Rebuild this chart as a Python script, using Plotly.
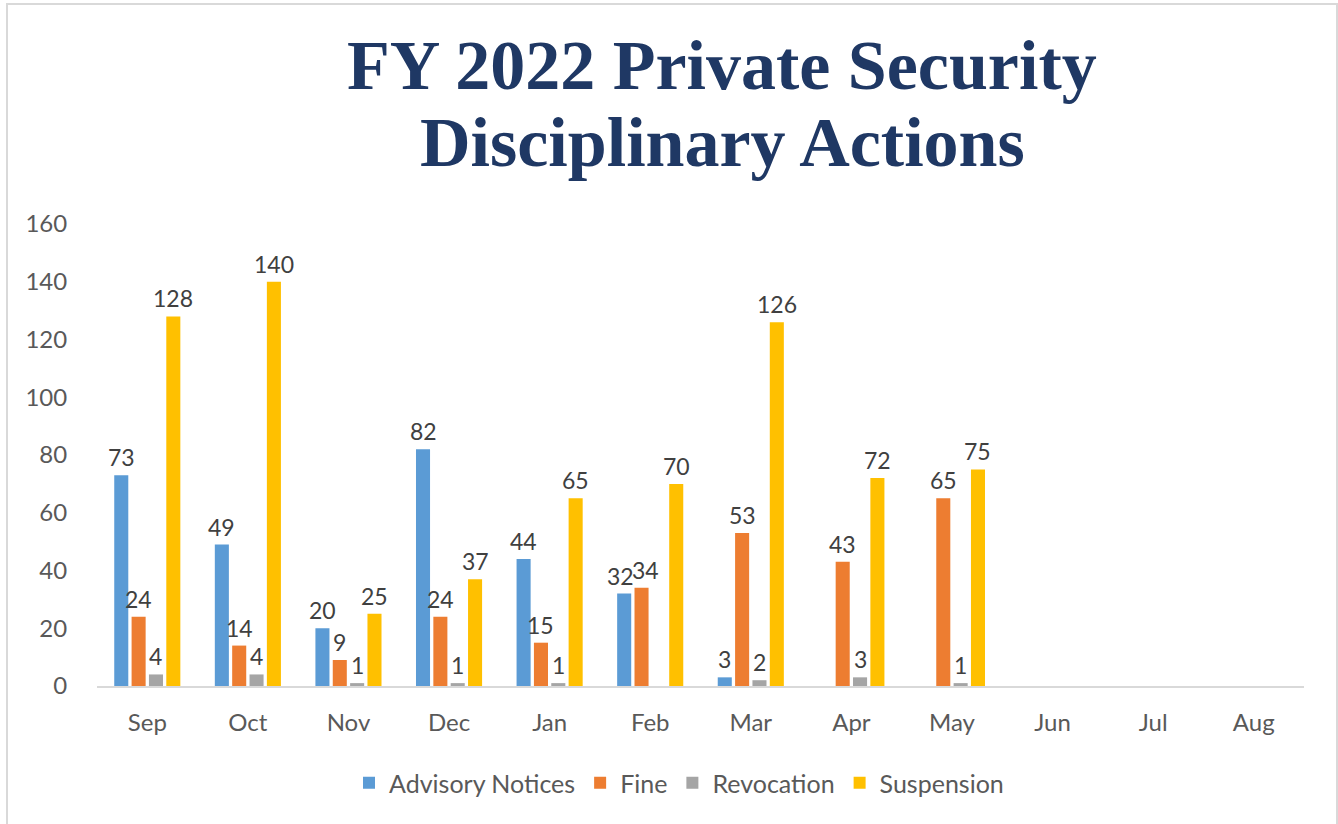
import plotly.graph_objects as go

months = ["Sep", "Oct", "Nov", "Dec", "Jan", "Feb", "Mar", "Apr", "May", "Jun", "Jul", "Aug"]
advisory = [73, 49, 20, 82, 44, 32, 3, None, None, None, None, None]
fine = [24, 14, 9, 24, 15, 34, 53, 43, 65, None, None, None]
revocation = [4, 4, 1, 1, 1, None, 2, 3, 1, None, None, None]
suspension = [128, 140, 25, 37, 65, 70, 126, 72, 75, None, None, None]

series = [
    ("Advisory Notices", advisory, "#5B9BD5"),
    ("Fine", fine, "#ED7D31"),
    ("Revocation", revocation, "#A5A5A5"),
    ("Suspension", suspension, "#FFC000"),
]

W, H = 1338, 824
L, R, T, B = 97, 1304, 224, 686
BARGAP = 0.31
BARGROUPGAP = 0.19


def xp(px):
    return (px - L) / (R - L)


def yp(py):
    return (B - py) / (B - T)


FONT = "Lato, 'Open Sans', sans-serif"

fig = go.Figure()
for name, vals, color in series:
    fig.add_trace(go.Bar(
        name=name,
        x=months,
        y=vals,
        marker=dict(color=color, line=dict(width=0)),
        cliponaxis=False,
    ))

# data labels: placed at each bar's value via the axes, shifted to the bar's slot in the group
cat_px = (R - L) / len(months)
slot_px = cat_px * (1 - BARGAP) / len(series)
label_anns = []
for si, (name, vals, color) in enumerate(series):
    for mi, v in enumerate(vals):
        if v is None:
            continue
        shift = (si - (len(series) - 1) / 2) * slot_px
        left = series[si - 1][1][mi] if si > 0 else None
        right = series[si + 1][1][mi] if si < len(series) - 1 else None
        if right is not None and v >= 10 and right >= 10 and abs(v - right) < 8:
            shift -= 4
        if left is not None and v >= 10 and left >= 10 and abs(v - left) < 8:
            shift += 4
        label_anns.append(dict(
            x=months[mi], y=v, xref="x", yref="y", text=str(v), showarrow=False,
            xanchor="center", yanchor="bottom", xshift=shift, yshift=2,
            font=dict(family=FONT, size=23, color="#404040"),
        ))

title_font = dict(family="'Liberation Serif', 'DejaVu Serif', serif", size=70, color="#1F3864")

fig.update_layout(
    width=W, height=H,
    margin=dict(l=L, r=W - R, t=T, b=H - B, pad=0),
    paper_bgcolor="white",
    plot_bgcolor="white",
    barmode="group",
    bargap=BARGAP,
    bargroupgap=BARGROUPGAP,
    font=dict(family=FONT, size=24, color="#595959"),
    showlegend=True,
    legend=dict(
        orientation="h",
        x=xp(679), xanchor="center",
        y=yp(783), yanchor="middle",
        font=dict(family=FONT, size=25, color="#595959"),
        itemwidth=30,
        traceorder="normal",
    ),
    xaxis=dict(
        type="category",
        showline=True, linecolor="#D9D9D9", linewidth=2,
        showgrid=False, zeroline=False,
        ticks="outside", ticklen=14, tickcolor="rgba(0,0,0,0)",
        tickfont=dict(family=FONT, size=24, color="#595959"),
    ),
    yaxis=dict(
        range=[0, 160],
        tickvals=[0, 20, 40, 60, 80, 100, 120, 140, 160],
        showline=False, showgrid=False, zeroline=False,
        ticks="outside", ticklen=24, tickcolor="rgba(0,0,0,0)",
        tickfont=dict(family=FONT, size=24, color="#595959"),
    ),
    annotations=[
        dict(text="<b>FY 2022 Private Security</b>", xref="paper", yref="paper",
             x=xp(722), y=yp(92), xanchor="center", yanchor="bottom", showarrow=False,
             yshift=-14, font=title_font),
        dict(text="<b>Disciplinary Actions</b>", xref="paper", yref="paper",
             x=xp(722), y=yp(168), xanchor="center", yanchor="bottom", showarrow=False,
             yshift=-15, font=title_font),
    ] + label_anns,
    shapes=[
        dict(type="rect", xref="paper", yref="paper",
             x0=xp(7), x1=xp(1337), y0=yp(4), y1=yp(840),
             line=dict(color="#D9D9D9", width=2), fillcolor="rgba(0,0,0,0)", layer="below"),
    ],
)

fig.write_html("out.html")
